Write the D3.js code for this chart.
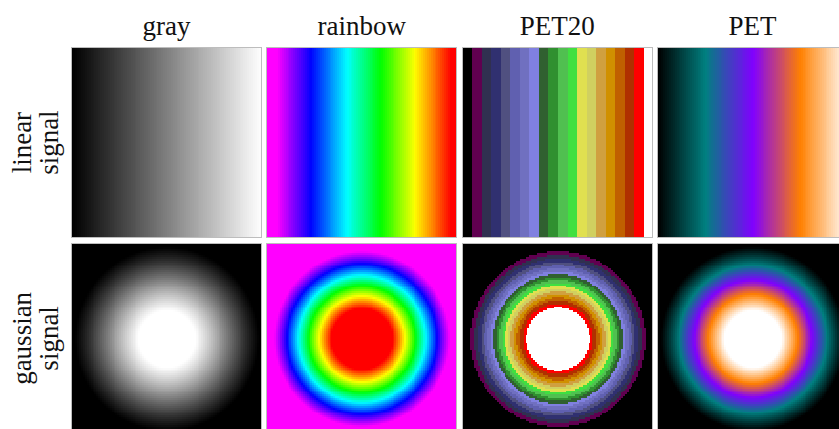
<!DOCTYPE html>
<html>
<head>
<meta charset="utf-8">
<script src="https://cdn.jsdelivr.net/npm/d3@7"></script>
<style>
  html, body { margin: 0; padding: 0; background: #fff; overflow: hidden; }
  svg text { font-family: "Liberation Serif", "DejaVu Serif", serif; fill: #111; }
</style>
</head>
<body>
<svg id="fig" width="839" height="429"></svg>
<script>
// Colormaps shown in the columns, signals shown in the rows
const colormapNames = ["gray", "rainbow", "PET20", "PET"];
const signalNames = ["linear", "gaussian"];
const rowLabelLines = [["linear", "signal"], ["gaussian", "signal"]];

// Continuous colormap stops
const grayStops = [0, 1];
const grayColors = ["#000000", "#ffffff"];
const rainbowStops = [0.05, 0.23, 0.42, 0.60, 0.78, 0.97];
const rainbowColors = ["#ff00ff", "#0000ff", "#00ffff", "#00ff00", "#ffff00", "#ff0000"];
const petStops = [0, 0.25, 0.5, 0.75, 1];
const petColors = ["#000000", "#008080", "#8000ff", "#ff8000", "#ffffff"];

// Discrete 20-colour PET table
const pet20Colors = [
  "#000000", "#600050", "#303050", "#303070", "#505080",
  "#6060b0", "#7070c0", "#8080e0", "#306030", "#309030",
  "#50c050", "#40e040", "#e0e050", "#d0d060", "#d0a040",
  "#d09000", "#c06000", "#b03000", "#ff0000", "#ffffff"
];

// Signal sampling grid and gaussian parameters
const gridSize = 100;
const gaussSigma = 0.576;           // in units of half the image width
const gaussDisplayRange = [0.25, 0.877];

const colormaps = {
  gray: d3.scaleLinear().domain(grayStops).range(grayColors).clamp(true),
  rainbow: d3.scaleLinear().domain(rainbowStops).range(rainbowColors).clamp(true),
  PET20: d3.scaleQuantize().domain([0, 1]).range(pet20Colors),
  PET: d3.scaleLinear().domain(petStops).range(petColors).clamp(true)
};

// Build the two signals on the sampling grid
const cellCoord = d3.scaleLinear().domain([0, gridSize]).range([-1, 1]);
const rampValue = d3.scaleLinear().domain([0, gridSize - 1]).range([0, 1]);
const gaussNorm = d3.scaleLinear().domain(gaussDisplayRange).range([0, 1]).clamp(true);

const signals = {
  linear: d3.range(gridSize).map(() => d3.range(gridSize).map(j => rampValue(j))),
  gaussian: d3.range(gridSize).map(i => d3.range(gridSize).map(j => {
    const u = cellCoord(j + 0.5), w = cellCoord(i + 0.5);
    const g = Math.exp(-(u * u + w * w) / (2 * gaussSigma * gaussSigma));
    return gaussNorm(g);
  }))
};

// Panel layout
const panelX = d3.scaleBand().domain(colormapNames).range([71, 848]).paddingInner(0.022);
const panelY = d3.scaleBand().domain(signalNames).range([47, 434]).paddingInner(0.023);
const size = Math.round(panelX.bandwidth());

function renderImage(signal, cmap) {
  const canvas = document.createElement("canvas");
  canvas.width = size; canvas.height = size;
  const ctx = canvas.getContext("2d");
  const img = ctx.createImageData(size, size);
  const toCell = d3.scaleLinear().domain([0, size]).range([0, gridSize]);
  const cache = new Map();
  for (let py = 0; py < size; py++) {
    const i = Math.min(gridSize - 1, Math.floor(toCell(py)));
    for (let px = 0; px < size; px++) {
      const j = Math.min(gridSize - 1, Math.floor(toCell(px)));
      const v = signal[i][j];
      let c = cache.get(v);
      if (!c) { c = d3.rgb(cmap(v)); cache.set(v, c); }
      const k = (py * size + px) * 4;
      img.data[k] = c.r; img.data[k + 1] = c.g; img.data[k + 2] = c.b; img.data[k + 3] = 255;
    }
  }
  ctx.putImageData(img, 0, 0);
  return canvas.toDataURL();
}

const svg = d3.select("#fig");

const cells = [];
signalNames.forEach(s => colormapNames.forEach(c => cells.push({ s, c })));

const panel = svg.selectAll("g.panel").data(cells).join("g")
  .attr("class", "panel")
  .attr("transform", d => `translate(${Math.round(panelX(d.c))},${Math.round(panelY(d.s))})`);

panel.append("image")
  .attr("width", size).attr("height", size)
  .attr("preserveAspectRatio", "none")
  .attr("href", d => renderImage(signals[d.s], colormaps[d.c]));

panel.append("rect")
  .attr("x", 0.5).attr("y", 0.5)
  .attr("width", size - 1).attr("height", size - 1)
  .attr("fill", "none").attr("stroke", "#bdbdbd").attr("stroke-width", 1);

// Column titles
svg.selectAll("text.title").data(colormapNames).join("text")
  .attr("class", "title")
  .attr("x", d => panelX(d) + panelX.bandwidth() / 2)
  .attr("y", 35)
  .attr("text-anchor", "middle")
  .attr("font-size", 27)
  .text(d => d);

// Row labels, rotated
const rowLabel = svg.selectAll("g.rowlabel").data(signalNames).join("g")
  .attr("class", "rowlabel")
  .attr("transform", d => `translate(0,${panelY(d) + panelY.bandwidth() / 2}) rotate(-90)`);

rowLabel.selectAll("text").data((d, i) => rowLabelLines[i]).join("text")
  .attr("x", 0)
  .attr("y", (d, i) => i === 0 ? 31 : 58)
  .attr("text-anchor", "middle")
  .attr("font-size", 27)
  .text(d => d);
</script>
</body>
</html>
